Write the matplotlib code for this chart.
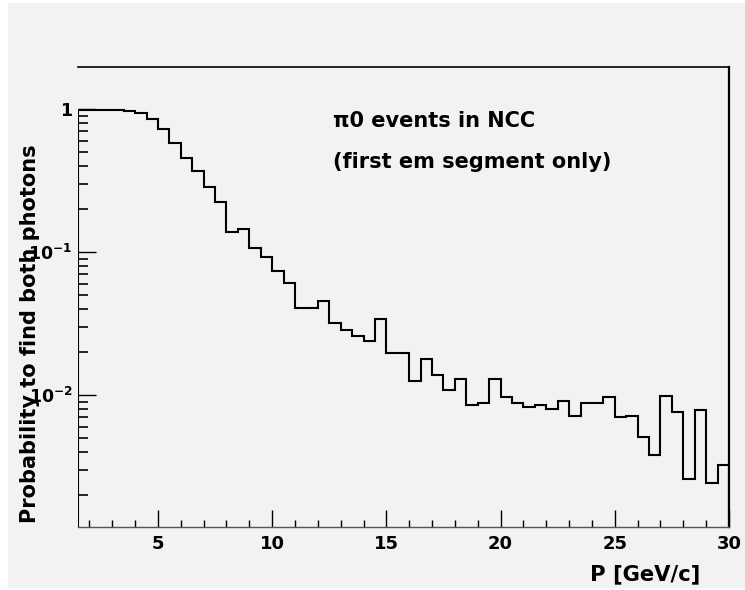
import numpy as np
import matplotlib
matplotlib.use("Agg")
import matplotlib.pyplot as plt
from matplotlib.patches import Rectangle
from matplotlib.ticker import MultipleLocator, FixedLocator, NullFormatter

# ---- data ----
bin_edges = np.arange(1.5, 30.01, 0.5)
prob = [0.99, 0.99, 0.99, 0.99, 0.968, 0.933, 0.847, 0.725, 0.575, 0.456,
        0.368, 0.286, 0.225, 0.137, 0.146, 0.107, 0.0918, 0.0733, 0.061, 0.0404,
        0.0404, 0.0454, 0.032, 0.0285, 0.0259, 0.0239, 0.034, 0.0196, 0.0196, 0.0126,
        0.0178, 0.0137, 0.0108, 0.0129, 0.00847, 0.00879, 0.0129, 0.00964, 0.00879, 0.00828,
        0.00855, 0.00798, 0.00908, 0.00713, 0.00883, 0.00883, 0.00964, 0.00698, 0.00717, 0.00506,
        0.0038, 0.00989, 0.00764, 0.00259, 0.00785, 0.00241, 0.00326]
x_ticks = [5, 10, 15, 20, 25, 30]
y_ticks = [0.01, 0.1, 1]
y_ticklabels = [r"$\mathbf{10^{-2}}$", r"$\mathbf{10^{-1}}$", "1"]
x_label = "P [GeV/c]"
y_label = "Probability to find both photons"
note1 = "π0 events in NCC"
note2 = "(first em segment only)"

W, H = 745, 590
BG = "#f2f2f2"
FONT = "DejaVu Sans"
plt.rcParams["mathtext.fontset"] = "dejavusans"

fig = plt.figure(figsize=(W / 100, H / 100), dpi=100, facecolor="white")
fig.patches.append(Rectangle((8 / W, 2 / H), 1 - 8 / W, 1 - 5 / H,
                             transform=fig.transFigure, facecolor=BG,
                             edgecolor="none", zorder=-10))

left, right, top, bottom = 78, 729, 67, 527
ax = fig.add_axes([left / W, 1 - bottom / H, (right - left) / W, (bottom - top) / H])
ax.set_facecolor(BG)

ax.stairs(prob, bin_edges, color="black", linewidth=1.5)

ax.set_yscale("log")
ax.set_xlim(1.5, 30)
ax.set_ylim(10 ** -2.923, 10 ** 0.294)

ax.spines["left"].set_visible(False)
for s in ("top", "right", "bottom"):
    ax.spines[s].set_color("black")
ax.spines["top"].set_linewidth(1.2)
ax.spines["right"].set_linewidth(1.6)
ax.spines["bottom"].set_linewidth(1.0)
ax.spines["bottom"].set_color("#555555")

ax.xaxis.set_major_locator(FixedLocator(x_ticks))
ax.xaxis.set_minor_locator(MultipleLocator(1))
ax.yaxis.set_major_locator(FixedLocator(y_ticks))
ax.set_yticklabels(y_ticklabels)
ax.yaxis.set_minor_locator(matplotlib.ticker.LogLocator(base=10, subs=np.arange(2, 10)))
ax.yaxis.set_minor_formatter(NullFormatter())

ax.tick_params(axis="x", which="major", direction="in", length=12, width=1.0,
               labelsize=13, pad=6, top=False)
ax.tick_params(axis="x", which="minor", direction="in", length=5, width=1.0, top=False)
ax.tick_params(axis="y", which="major", direction="in", length=13, width=1.0,
               labelsize=12.5, pad=4, right=False)
ax.tick_params(axis="y", which="minor", direction="in", length=7, width=1.2, right=False)
for lab in ax.get_xticklabels() + ax.get_yticklabels():
    lab.set_fontfamily(FONT)
    lab.set_fontweight("bold")

fig.text(700 / W, 1 - 574 / H, x_label, ha="right", va="center",
         fontsize=15.2, fontweight="bold", family=FONT)
fig.text(36 / W, 1 - 523 / H, y_label, rotation=90, rotation_mode="anchor",
         ha="left", va="baseline", fontsize=15, fontweight="bold", family=FONT)

fig.text(333 / W, 1 - 121 / H, note1, ha="left", va="center",
         fontsize=15, fontweight="bold", family=FONT)
fig.text(333 / W, 1 - 162 / H, note2, ha="left", va="center",
         fontsize=15, fontweight="bold", family=FONT)

fig.savefig("out.png", dpi=100, facecolor=fig.get_facecolor())
